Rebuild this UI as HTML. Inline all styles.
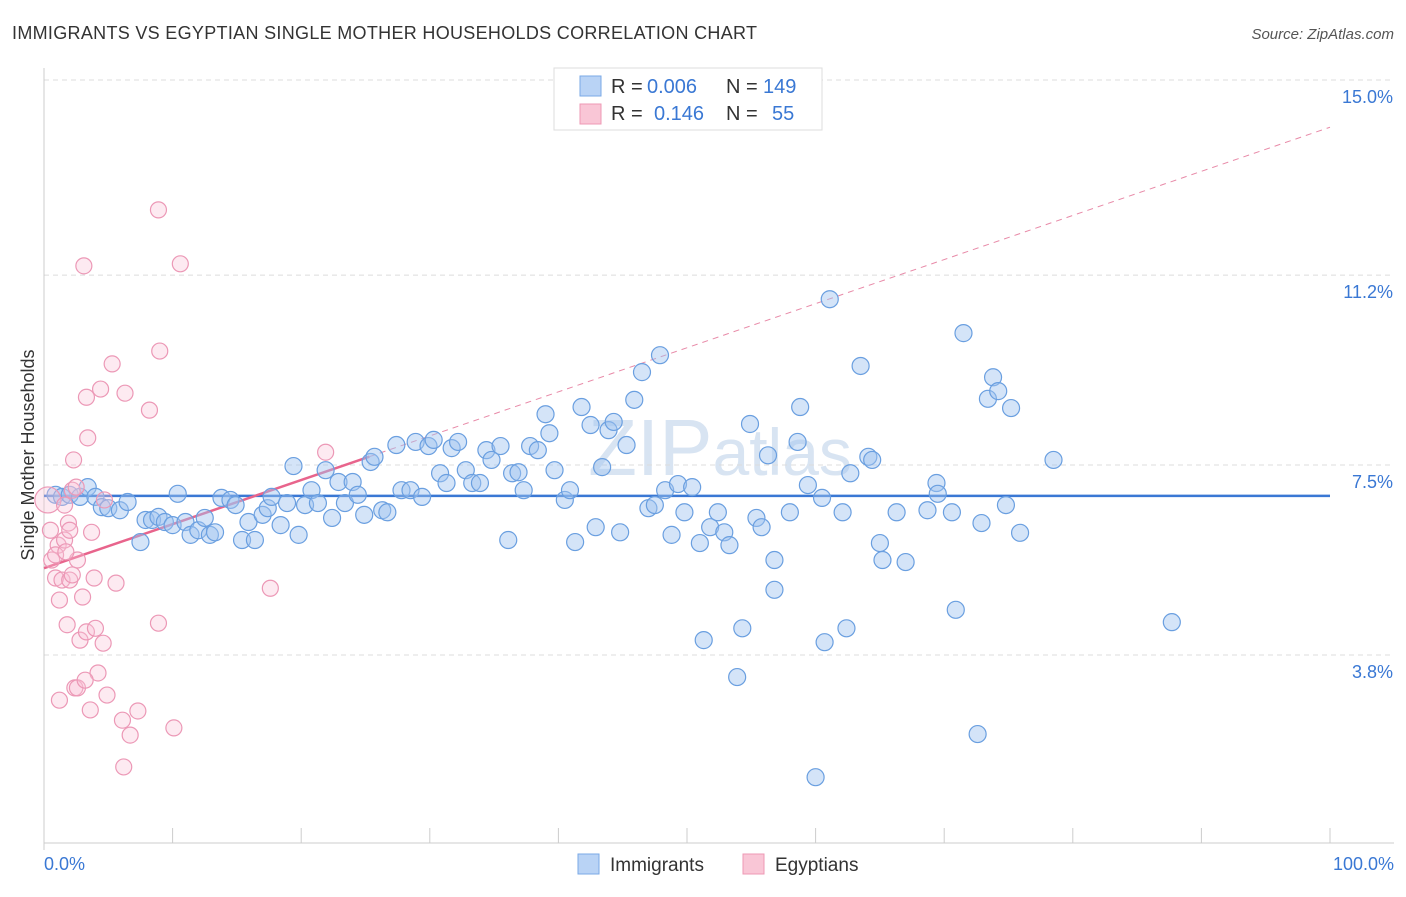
<!DOCTYPE html>
<html><head><meta charset="utf-8"><style>
body{margin:0;background:#fff;font-family:"Liberation Sans",sans-serif;}
svg text{font-family:"Liberation Sans",sans-serif;}
</style></head><body>
<svg id="chart" width="1406" height="892">
<text x="12" y="39" font-size="18" fill="#333" textLength="745">IMMIGRANTS VS EGYPTIAN SINGLE MOTHER HOUSEHOLDS CORRELATION CHART</text>
<text x="1394" y="39" font-size="15" fill="#555" font-style="italic" text-anchor="end">Source: ZipAtlas.com</text>
<text x="720" y="475" font-size="80" fill="#d8e4f2" text-anchor="middle" font-family="Liberation Serif">ZIP<tspan font-family="Liberation Sans" font-size="66">atlas</tspan></text>
<g id="grid"></g>
<g id="axes"></g>
<g id="trends"></g>
<g id="pts"></g>
<text transform="translate(34,455) rotate(-90)" font-size="18" fill="#333" text-anchor="middle">Single Mother Households</text>
<text x="44" y="870" font-size="18" fill="#3a78d4">0.0%</text>
<text x="1394" y="870" font-size="18" fill="#3a78d4" text-anchor="end">100.0%</text>
<g>
<rect x="554" y="68" width="268" height="62" fill="#fff" stroke="#ddd"/>
<rect x="580" y="76" width="21" height="20" fill="#b9d3f5" stroke="#7aa8e6"/>
<rect x="580" y="104" width="21" height="20" fill="#f9c6d6" stroke="#ee98b4"/>
<text x="611" y="93" font-size="20" fill="#333">R =</text>
<text x="647" y="93" font-size="20" fill="#3a78d4">0.006</text>
<text x="726" y="93" font-size="20" fill="#333">N =</text>
<text x="763" y="93" font-size="20" fill="#3a78d4">149</text>
<text x="611" y="120" font-size="20" fill="#333">R =</text>
<text x="654" y="120" font-size="20" fill="#3a78d4">0.146</text>
<text x="726" y="120" font-size="20" fill="#333">N =</text>
<text x="772" y="120" font-size="20" fill="#3a78d4">55</text>
</g>
<g>
<rect x="578" y="854" width="21" height="20" fill="#b9d3f5" stroke="#7aa8e6"/>
<text x="610" y="871" font-size="19" fill="#333">Immigrants</text>
<rect x="743" y="854" width="21" height="20" fill="#f9c6d6" stroke="#ee98b4"/>
<text x="775" y="871" font-size="19" fill="#333">Egyptians</text>
</g>
</svg>
<script>
const yTicks=[15.0,11.2,7.5,3.8];
const yTickLabels=["15.0%","11.2%","7.5%","3.8%"];
const xTicks=[0,10,20,30,40,50,60,70,80,90,100];
const blueX=[0.9,1.4,2.0,2.8,3.4,4.0,4.5,5.0,5.9,6.5,7.5,7.9,8.4,8.9,9.4,10.0,10.4,11.0,11.4,12.0,12.5,12.9,13.3,13.8,14.5,14.9,15.4,15.9,16.4,17.0,17.4,17.7,18.4,18.9,19.4,19.8,20.3,20.8,21.3,21.9,22.4,22.9,23.4,24.0,24.4,24.9,25.4,25.7,26.3,26.7,27.4,27.8,28.5,28.9,29.4,29.9,30.3,30.8,31.3,31.7,32.2,32.8,33.3,33.9,34.4,34.8,35.5,36.1,36.4,36.9,37.3,37.8,38.4,39.0,39.3,39.7,40.5,40.9,41.3,41.8,42.5,42.9,43.4,43.9,44.3,44.8,45.3,45.9,46.5,47.0,47.5,47.9,48.3,48.8,49.3,49.8,50.4,51.0,51.3,51.8,52.4,52.9,53.3,53.9,54.3,54.9,55.4,55.8,56.3,56.8,56.8,58.0,58.6,58.8,59.4,60.0,60.5,60.7,61.1,62.1,62.4,62.7,63.5,64.1,64.4,65.0,65.2,66.3,67.0,68.7,69.4,69.5,70.6,70.9,71.5,72.6,72.9,73.4,73.8,74.2,74.8,75.2,75.9,78.5,87.7];
const blueY=[6.92,6.88,6.92,6.88,7.07,6.88,6.68,6.66,6.62,6.78,6.00,6.43,6.43,6.49,6.39,6.33,6.94,6.39,6.14,6.23,6.47,6.14,6.19,6.86,6.82,6.72,6.04,6.39,6.04,6.53,6.66,6.88,6.33,6.76,7.48,6.14,6.72,7.01,6.76,7.40,6.47,7.17,6.76,7.17,6.92,6.53,7.56,7.66,6.62,6.58,7.89,7.01,7.01,7.95,6.88,7.87,7.99,7.34,7.15,7.83,7.95,7.40,7.15,7.15,7.79,7.60,7.87,6.04,7.34,7.36,7.01,7.87,7.79,8.49,8.12,7.40,6.82,7.01,6.00,8.63,8.28,6.29,7.46,8.18,8.34,6.19,7.89,8.77,9.31,6.66,6.72,9.64,7.01,6.14,7.13,6.58,7.07,5.98,4.09,6.29,6.58,6.19,5.94,3.37,4.32,8.30,6.47,6.29,7.69,5.65,5.07,6.58,7.95,8.63,7.11,1.42,6.86,4.05,10.73,6.58,4.32,7.34,9.43,7.66,7.60,5.98,5.65,6.58,5.61,6.62,7.15,6.94,6.58,4.68,10.07,2.26,6.37,8.79,9.21,8.94,6.72,8.61,6.18,7.60,4.44];
const pinkX=[0.3,0.5,0.6,0.9,1.1,1.2,1.4,1.6,1.8,1.9,2.0,2.2,2.3,2.5,2.6,2.8,3.0,3.1,3.3,3.3,3.4,3.6,3.7,3.9,4.0,4.2,4.4,4.6,4.7,4.9,5.3,5.6,6.1,6.2,6.3,6.7,7.3,8.2,8.9,8.9,9.0,10.1,10.6,17.6,21.9,2.4,2.6,1.2,0.9,1.6,1.7,2.0,2.2,3.2];
const pinkY=[6.82,6.23,5.65,5.30,5.94,4.87,5.26,6.04,4.39,6.37,5.26,7.01,7.60,7.07,5.65,4.09,4.93,11.38,4.25,8.82,8.03,2.73,6.19,5.30,4.32,3.45,8.98,4.03,6.82,3.02,9.47,5.20,2.53,1.62,8.90,2.24,2.71,8.57,4.42,12.47,9.72,2.38,11.42,5.10,7.75,3.16,3.16,2.92,5.75,6.72,5.81,6.23,5.36,3.31];
const blueTrend=[6.90,6.90];
const pinkTrend=[5.49,14.08];
const pinkSolidEnd=25.3;

const X=v=>44+v*12.86, Y=v=>80+(15-v)*51.34;
const NS="http://www.w3.org/2000/svg";
function mk(tag,attrs,parent){const e=document.createElementNS(NS,tag);for(const k in attrs)e.setAttribute(k,attrs[k]);document.getElementById(parent).appendChild(e);return e;}
yTicks.forEach((t,i)=>{
  const l=mk('line',{x1:44,x2:1394,y1:Y(t),y2:Y(t),stroke:'#dcdcdc','stroke-dasharray':'5,4'},'grid');
  
  
  const tx=mk('text',{x:1393,y:Y(t)+23,'font-size':18,fill:'#3a78d4','text-anchor':'end'},'grid');
  tx.textContent=yTickLabels[i];
  
  
});
const ax=mk('line',{x1:44,x2:44,y1:68,y2:850,stroke:'#ccc'},'axes');


const bx=mk('line',{x1:44,x2:1394,y1:843,y2:843,stroke:'#ccc'},'axes');


xTicks.forEach(t=>{
  const l=mk('line',{x1:X(t),x2:X(t),y1:828,y2:843,stroke:'#ccc'},'axes');
  
  
});
const py=x=>pinkTrend[0]+(pinkTrend[1]-pinkTrend[0])*x/100;
let t1=mk('line',{x1:X(0),x2:X(100),y1:Y(blueTrend[0]),y2:Y(blueTrend[1]),stroke:'#3a78d4','stroke-width':2.5},'trends');


let t2=mk('line',{x1:X(pinkSolidEnd),x2:X(100),y1:Y(py(pinkSolidEnd)),y2:Y(py(100)),stroke:'#e88aa8','stroke-width':1,'stroke-dasharray':'6,5'},'trends');


let t3=mk('line',{x1:X(0),x2:X(pinkSolidEnd),y1:Y(py(0)),y2:Y(py(pinkSolidEnd)),stroke:'#e8648c','stroke-width':2.5},'trends');


blueX.forEach((x,i)=>{
  const c=mk('circle',{cx:X(x),cy:Y(blueY[i]),r:8.5,fill:'rgba(160,196,240,0.45)',stroke:'#6a9fe0','stroke-width':1.2},'pts');
  
  
});
pinkX.forEach((x,i)=>{
  const c=mk('circle',{cx:X(x),cy:Y(pinkY[i]),r:i==0?13:8,fill:'rgba(248,196,214,0.35)',stroke:'#ec98b6','stroke-width':1.2},'pts');
  
  
});
</script>
</body></html>
